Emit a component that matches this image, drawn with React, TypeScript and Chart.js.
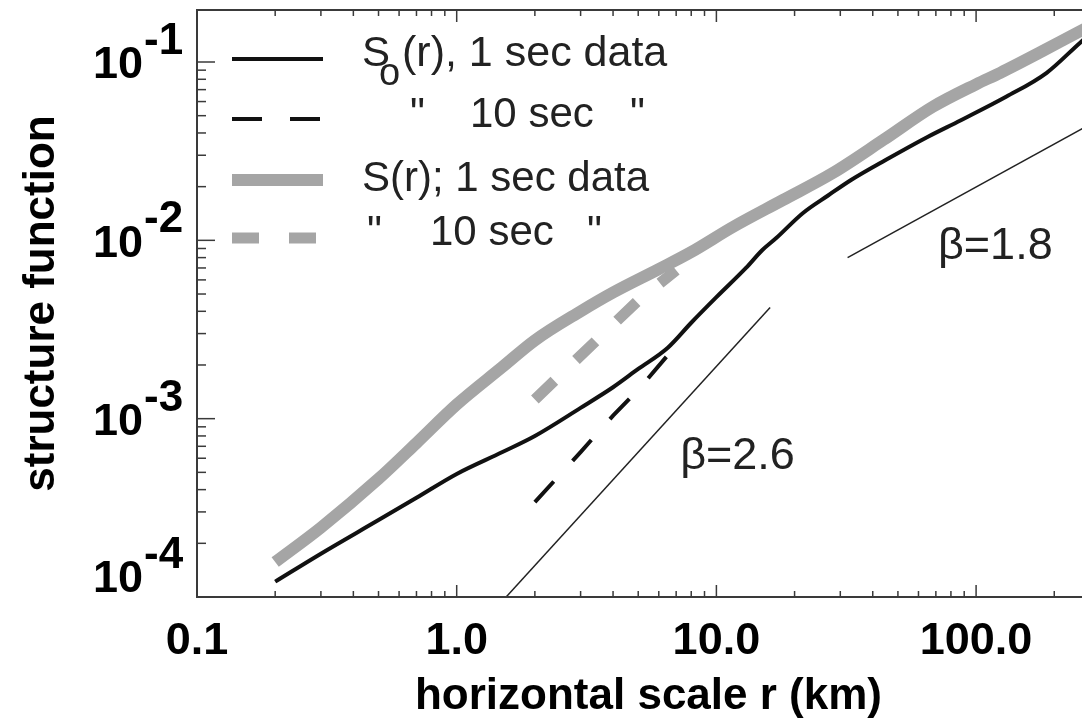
import React, { useEffect, useRef } from 'react';
import { Chart, registerables } from 'chart.js';

Chart.register(...registerables);

const FONT = '"Liberation Sans", Arial, Helvetica, sans-serif';

// ---- data ----
const soOneSecX = [0.2, 0.3, 0.5, 0.7, 1.0, 1.5, 2.0, 3.0, 4.0, 5.0, 6.5, 8.0, 10, 13, 15, 17, 21.5, 27, 33, 45, 65, 87, 131, 187, 251, 300];
const soOneSecY = [1.22e-4, 1.75e-4, 2.7e-4, 3.6e-4, 4.9e-4, 6.5e-4, 8.0e-4, 1.15e-3, 1.5e-3, 1.9e-3, 2.5e-3, 3.45e-3, 4.8e-3, 7.0e-3, 8.8e-3, 1.03e-2, 1.42e-2, 1.79e-2, 2.18e-2, 2.83e-2, 3.8e-2, 4.7e-2, 6.4e-2, 8.7e-2, 0.128, 0.16];

const soTenSecX = [2.0, 3.0, 4.0, 5.0, 6.6];
const soTenSecY = [3.4e-4, 6.5e-4, 1.04e-3, 1.45e-3, 2.33e-3];

const sOneSecX = [0.2, 0.3, 0.5, 0.7, 1.0, 1.5, 2.0, 3.0, 4.0, 6.0, 8.0, 11.6, 18, 28, 44, 68, 100, 124, 180, 245, 300];
const sOneSecY = [1.57e-4, 2.45e-4, 4.6e-4, 7.3e-4, 1.2e-3, 1.95e-3, 2.75e-3, 4.0e-3, 5.1e-3, 6.9e-3, 8.6e-3, 1.19e-2, 1.68e-2, 2.38e-2, 3.66e-2, 5.6e-2, 7.5e-2, 8.7e-2, 0.115, 0.146, 0.17];

const sTenSecX = [2.0, 2.5, 3.5, 5.0, 7.0];
const sTenSecY = [1.28e-3, 1.75e-3, 2.8e-3, 4.6e-3, 6.8e-3];

const beta26X = [1.55, 16.1];
const beta26Y = [1.0e-4, 4.2e-3];
const beta18X = [32, 300];
const beta18Y = [8.0e-3, 4.8e-2];

const annotationTexts = ['\u03B2=2.6', '\u03B2=1.8'];
const annotationX = [7.25, 71.3];
const annotationY = [6.1e-4, 9.2e-3];

const xTickValues = [0.1, 1, 10, 100];
const xTickLabels = ['0.1', '1.0', '10.0', '100.0'];
const yTickExponents = [-4, -3, -2, -1];

const xRange = [0.1, 300];
const yRange = [1e-4, 0.1957];

const xTitle = 'horizontal scale r (km)';
const yTitle = 'structure function';

const legendSubject = ['S', 'S(r); 1 sec data'];
const legendSub = 'o';
const legendRest = '(r), 1 sec data';
const legendTen = '10 sec';
const legendQuote = '"';

const pts = (xs: number[], ys: number[]) => xs.map((x, i) => ({ x, y: ys[i] }));

const BLACK = '#111111';
const GRAY = '#a5a5a5';

const decorPlugin = {
  id: 'decor',
  afterDraw(chart: any) {
    const { ctx, chartArea: a, scales } = chart;
    const xs = scales.x;
    const ys = scales.y;
    ctx.save();

    const seg = (x1: number, y1: number, x2: number, y2: number) => {
      ctx.beginPath();
      ctx.moveTo(x1, y1);
      ctx.lineTo(x2, y2);
      ctx.stroke();
    };

    // frame
    ctx.strokeStyle = '#3a3a3a';
    ctx.lineWidth = 2;
    ctx.setLineDash([]);
    ctx.strokeRect(a.left, a.top, a.right - a.left, a.bottom - a.top);

    // inward ticks
    ctx.lineWidth = 1.5;
    for (let e = -2; e <= 3; e++) {
      for (let d = 1; d <= 9; d++) {
        const v = d * Math.pow(10, e);
        if (v < xRange[0] * 0.9999 || v > xRange[1]) continue;
        const px = xs.getPixelForValue(v);
        const len = d === 1 ? 12 : 6;
        seg(px, a.bottom, px, a.bottom - len);
        seg(px, a.top, px, a.top + len);
      }
    }
    for (let e = -5; e <= 0; e++) {
      for (let d = 1; d <= 9; d++) {
        const v = d * Math.pow(10, e);
        if (v < yRange[0] * 0.9999 || v > yRange[1]) continue;
        const py = ys.getPixelForValue(v);
        const len = d === 1 ? 18 : 9;
        seg(a.left, py, a.left + len, py);
        seg(a.right, py, a.right - len, py);
      }
    }

    // y tick labels with superscripts
    ctx.fillStyle = '#000';
    ctx.textBaseline = 'middle';
    yTickExponents.forEach((ex) => {
      const py = ys.getPixelForValue(Math.pow(10, ex));
      const ly = Math.min(py + 4, a.bottom - 17);
      ctx.font = `bold 45px ${FONT}`;
      ctx.textAlign = 'right';
      ctx.fillText('10', a.left - 54, ly);
      ctx.textAlign = 'left';
      ctx.font = `bold 44px ${FONT}`;
      ctx.fillText(String(ex), a.left - 53, ly - 24);
    });

    // legend
    const lx1 = a.left + 35;
    const lx2 = a.left + 126;
    const rowY = [a.top + 49, a.top + 109, a.top + 170, a.top + 228];
    const sample = (y: number, color: string, width: number, dash: number[]) => {
      ctx.strokeStyle = color;
      ctx.lineWidth = width;
      ctx.setLineDash(dash);
      seg(lx1, y, lx2, y);
      ctx.setLineDash([]);
    };
    sample(rowY[0], BLACK, 4, []);
    sample(rowY[1], BLACK, 4, [30, 28]);
    sample(rowY[2], GRAY, 12, []);
    sample(rowY[3], GRAY, 11, [27, 30]);

    ctx.fillStyle = '#222';
    ctx.textAlign = 'left';
    ctx.textBaseline = 'alphabetic';
    ctx.font = `42px ${FONT}`;
    // row 1
    ctx.fillText(legendSubject[0], a.left + 165, rowY[0] + 7);
    ctx.font = `38px ${FONT}`;
    ctx.fillText(legendSub, a.left + 182, rowY[0] + 26);
    ctx.font = `43px ${FONT}`;
    ctx.fillText(legendRest, a.left + 205, rowY[0] + 7);
    ctx.font = `42px ${FONT}`;
    // row 2
    ctx.fillText(legendQuote, a.left + 213, rowY[1] + 8);
    ctx.fillText(legendTen, a.left + 273, rowY[1] + 8);
    ctx.fillText(legendQuote, a.left + 433, rowY[1] + 8);
    // row 3
    ctx.fillText(legendSubject[1], a.left + 165, rowY[2] + 11);
    // row 4
    ctx.fillText(legendQuote, a.left + 170, rowY[3] + 7);
    ctx.fillText(legendTen, a.left + 233, rowY[3] + 7);
    ctx.fillText(legendQuote, a.left + 390, rowY[3] + 7);

    // annotations
    ctx.font = `45px ${FONT}`;
    ctx.textBaseline = 'middle';
    annotationTexts.forEach((t, i) => {
      ctx.fillText(t, xs.getPixelForValue(annotationX[i]), ys.getPixelForValue(annotationY[i]));
    });

    ctx.restore();
  },
};

export default function App() {
  const ref = useRef<HTMLCanvasElement>(null);

  useEffect(() => {
    if (!ref.current) return;
    const chart = new Chart(ref.current, {
      type: 'line',
      data: {
        datasets: [
          {
            label: 'So(r), 1 sec data',
            data: pts(soOneSecX, soOneSecY),
            borderColor: BLACK,
            borderWidth: 4,
            pointRadius: 0,
            borderJoinStyle: 'round',
            cubicInterpolationMode: 'monotone',
          },
          {
            label: 'So(r), 10 sec data',
            data: pts(soTenSecX, soTenSecY),
            borderColor: BLACK,
            borderWidth: 4,
            borderDash: [28, 28],
            pointRadius: 0,
            tension: 0,
          },
          {
            label: 'S(r), 1 sec data',
            data: pts(sOneSecX, sOneSecY),
            borderColor: GRAY,
            borderWidth: 12,
            pointRadius: 0,
            borderJoinStyle: 'round',
            cubicInterpolationMode: 'monotone',
          },
          {
            label: 'S(r), 10 sec data',
            data: pts(sTenSecX, sTenSecY),
            borderColor: GRAY,
            borderWidth: 11,
            borderDash: [27, 30],
            pointRadius: 0,
            tension: 0,
          },
          {
            label: 'beta=2.6',
            data: pts(beta26X, beta26Y),
            borderColor: '#222',
            borderWidth: 1.5,
            pointRadius: 0,
          },
          {
            label: 'beta=1.8',
            data: pts(beta18X, beta18Y),
            borderColor: '#222',
            borderWidth: 1.5,
            pointRadius: 0,
          },
        ],
      },
      options: {
        responsive: false,
        maintainAspectRatio: false,
        animation: false,
        devicePixelRatio: 1,
        layout: { padding: { top: 10, right: 10, left: 0, bottom: 0 } },
        plugins: {
          legend: { display: false },
          tooltip: { enabled: false },
        },
        scales: {
          x: {
            type: 'logarithmic',
            position: 'bottom',
            min: xRange[0],
            max: xRange[1],
            afterBuildTicks: (axis: any) => {
              axis.ticks = xTickValues.map((v) => ({ value: v }));
            },
            afterFit: (scale: any) => {
              scale.height = 126;
            },
            grid: { display: false, drawTicks: false },
            border: { display: false },
            ticks: {
              autoSkip: false,
              maxRotation: 0,
              padding: 18,
              color: '#000',
              font: { family: FONT, size: 45, weight: 'bold', lineHeight: 1.2 },
              callback: (_v: any, i: number) => xTickLabels[i] ?? '',
            },
            title: {
              display: true,
              text: xTitle,
              color: '#000',
              font: { family: FONT, size: 44, weight: 'bold', lineHeight: 1 },
              padding: { top: 0, bottom: 4 },
            },
          },
          y: {
            type: 'logarithmic',
            position: 'left',
            min: yRange[0],
            max: yRange[1],
            afterFit: (scale: any) => {
              scale.width = 197;
            },
            grid: { display: false, drawTicks: false },
            border: { display: false },
            ticks: { display: false },
            title: {
              display: true,
              text: yTitle,
              color: '#000',
              font: { family: FONT, size: 44, weight: 'bold', lineHeight: 1 },
              padding: { top: 20, bottom: 0 },
            },
          },
        },
      } as any,
      plugins: [decorPlugin],
    });
    return () => chart.destroy();
  }, []);

  return (
    <div
      style={{
        position: 'fixed',
        left: 0,
        top: 0,
        width: 1082,
        height: 723,
        overflow: 'hidden',
        background: '#ffffff',
      }}
    >
      <canvas ref={ref} width={1110} height={723} style={{ display: 'block', width: 1110, height: 723 }} />
    </div>
  );
}
